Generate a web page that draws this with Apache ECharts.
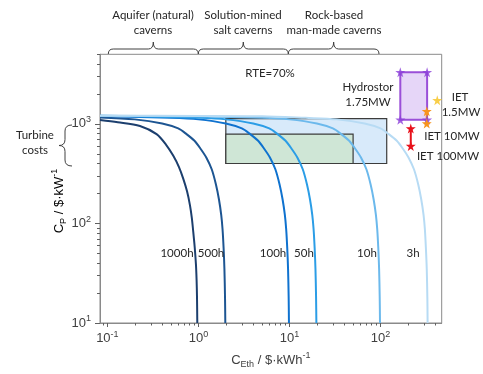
<!DOCTYPE html>
<html><head><meta charset="utf-8">
<script src="https://cdn.jsdelivr.net/npm/echarts@6/dist/echarts.min.js"></script>
<style>html,body{margin:0;padding:0;background:#fff}#c{width:483px;height:374px}</style>
</head><body><div id="c"></div>
<script>
// ---- data (C_Eth in $/kWh, C_P in $/kW) ----
const durations = ['1000h', '500h', '100h', '50h', '10h', '3h'];
const curve1000h = [[0.083,1095],[0.13,1040],[0.228,953],[0.347,789],[0.44,620],[0.528,480],[0.61,370],[0.681,282],[0.75,210],[0.807,153],[0.845,115],[0.877,83],[0.91,58],[0.939,39],[0.955,27],[0.965,18],[0.972,10]];
const curve500h = [[0.083,1160],[0.2,1110],[0.4,1010],[0.6,900],[0.74,790],[0.9,680],[1.06,560],[1.22,460],[1.4,350],[1.56,245],[1.68,175],[1.78,122],[1.84,88],[1.89,57],[1.93,35],[1.96,18],[1.974,10]];
const curve100h = [[0.083,1203],[0.5,1150],[1,1110],[2,1010],[3,900],[3.7,790],[4.5,680],[5.3,560],[6.1,460],[7,350],[7.8,245],[8.4,175],[8.9,122],[9.2,88],[9.45,57],[9.65,35],[9.8,18],[9.87,10]];
const curve50h = [[0.083,1205],[0.2,1195],[1,1150],[2,1110],[4,1010],[6,900],[7.4,790],[9,680],[10.6,560],[12.2,460],[14,350],[15.6,245],[16.8,175],[17.8,122],[18.4,88],[18.9,57],[19.3,35],[19.6,18],[19.75,10]];
const curve10h = [[0.083,1205],[0.5,1200],[1,1190],[5,1150],[10,1110],[20,1010],[30,900],[37,790],[45,680],[53,560],[61,460],[70,350],[78,245],[84,175],[89,122],[92,88],[94.5,57],[96.5,35],[98,18],[98.7,10]];
const curve3h = [[0.083,1205],[1,1203],[5,1195],[15,1150],[33,1110],[67,1010],[100,900],[123,790],[150,680],[177,560],[203,460],[233,350],[260,245],[280,175],[297,122],[307,88],[315,57],[322,35],[327,18],[329,10]];
const curves = [curve1000h, curve500h, curve100h, curve50h, curve10h, curve3h];

const storageRects = [[2, 400, 117, 1130], [2, 400, 50, 790]];   // [x0, y0, x1, y1]
const hydrostorRect = [[165, 1100, 325, 3300]];
const hydrostorStars = [[165, 3300], [325, 3300], [165, 1100], [325, 1100]];
const iet15Star = [[420, 1730]];
const iet10Stars = [[322, 1340], [322, 1010]];
const iet100Stars = [[215, 900], [215, 600]];

const xMajorTicks = [0.1, 1, 10, 100];
const xMinorTicks = [0.09, 0.2, 0.3, 0.4, 0.5, 0.6, 0.7, 0.8, 0.9, 2, 3, 4, 5, 6, 7, 8, 9, 20, 30, 40, 50, 60, 70, 80, 90, 200, 300, 400];
const yMajorTicks = [10, 100, 1000];
const yMinorTicks = [20, 30, 40, 50, 60, 70, 80, 90, 200, 300, 400, 500, 600, 700, 800, 900, 2000, 3000, 4000, 5000];

// ---- styling ----
const curveColors = ['#1c3f6e', '#1d5592', '#0f72cf', '#2b9de6', '#6cb9ec', '#b7dbf4'];
const AX = 'Liberation Sans';
const ANN = 'Lato';
const axisColor = '#8a8a8a';
const labelColor = '#404040';
const STAR = 'path://M50,0 L61,35 L98,35 L68,57 L79,91 L50,70 L21,91 L32,57 L2,35 L39,35 Z';

const powRich = {
  b: {fontSize: 13, fontFamily: AX, color: labelColor, lineHeight: 17, verticalAlign: 'middle'},
  s: {fontSize: 9, fontFamily: AX, color: labelColor, lineHeight: 17, verticalAlign: 'top'}
};
const powFmt = v => '{b|10}{s|' + Math.round(Math.log10(v)) + '}';
const nameRich = {
  m: {fontSize: 13, fontFamily: AX, color: labelColor, lineHeight: 18, verticalAlign: 'middle'},
  sub: {fontSize: 9, fontFamily: AX, color: labelColor, lineHeight: 18, verticalAlign: 'bottom'},
  sup: {fontSize: 9, fontFamily: AX, color: labelColor, lineHeight: 18, verticalAlign: 'top'}
};

function rectItem(fill, stroke, lw) {
  return function (params, api) {
    const p0 = api.coord([api.value(0), api.value(3)]);
    const p1 = api.coord([api.value(2), api.value(1)]);
    return {type: 'rect', shape: {x: p0[0], y: p0[1], width: p1[0] - p0[0], height: p1[1] - p0[1]},
      style: {fill: fill[params.dataIndex] || fill[0], stroke: stroke, lineWidth: lw}};
  };
}

const series = [];
series.push({type: 'custom', z: 1, renderItem: rectItem(['rgba(203,227,248,0.75)', '#cfe6d6'], '#3c3c3c', 1.2),
  encode: {x: [0, 2], y: [1, 3]}, data: storageRects, silent: true});
series.push({type: 'custom', z: 1, renderItem: rectItem(['#e6d6f8'], '#9a4fd8', 2),
  encode: {x: [0, 2], y: [1, 3]}, data: hydrostorRect, silent: true});
curves.forEach((c, i) => series.push({
  type: 'line', name: durations[i], data: c, smooth: 0.3, showSymbol: false, z: 2,
  lineStyle: {color: curveColors[i], width: 2}, itemStyle: {color: curveColors[i]}
}));
series.push({type: 'scatter', z: 4, data: hydrostorStars, symbol: STAR, symbolSize: 10, itemStyle: {color: '#8b3fd9'}});
series.push({type: 'scatter', z: 4, data: iet15Star, symbol: STAR, symbolSize: 10, itemStyle: {color: '#f6c21c'}});
series.push({type: 'line', z: 4, data: iet10Stars, symbol: STAR, symbolSize: 10, showSymbol: true,
  lineStyle: {color: '#f7941d', width: 2}, itemStyle: {color: '#f7941d'}});
series.push({type: 'line', z: 4, data: iet100Stars, symbol: STAR, symbolSize: 10, showSymbol: true,
  lineStyle: {color: '#e8111b', width: 2}, itemStyle: {color: '#e8111b'}});

function txt(x, y, text, size) {
  return {type: 'text', x: x, y: y, z: 10,
    style: {text: text, fill: '#262626', fontSize: size || 11.5, fontFamily: ANN, align: 'center', verticalAlign: 'middle'}};
}
const braceStyle = {stroke: '#404040', lineWidth: 1, fill: null};
function bz(x1, y1, cx, cy, x2, y2) {
  return {type: 'bezierCurve', z: 10, shape: {x1: x1, y1: y1, cpx1: cx, cpy1: cy, x2: x2, y2: y2}, style: braceStyle};
}
function ln(x1, y1, x2, y2) {
  return {type: 'line', z: 10, shape: {x1: x1, y1: y1, x2: x2, y2: y2}, style: braceStyle};
}
function topBrace(x0, x1, yb) {
  const c = (x0 + x1) / 2, yh = yb - 5, yt = yb - 12;
  return [bz(x0, yb, x0, yh, x0 + 5, yh), ln(x0 + 5, yh, c - 5, yh), bz(c - 5, yh, c, yh, c, yt),
    bz(c, yt, c, yh, c + 5, yh), ln(c + 5, yh, x1 - 5, yh), bz(x1 - 5, yh, x1, yh, x1, yb)];
}
function leftBrace(xr, y0, y1) {
  const m = (y0 + y1) / 2, xh = xr - 7, xt = xr - 13;
  return [bz(xr, y0, xh, y0, xh, y0 + 6), ln(xh, y0 + 6, xh, m - 6), bz(xh, m - 6, xh, m, xt, m),
    bz(xt, m, xh, m, xh, m + 6), ln(xh, m + 6, xh, y1 - 6), bz(xh, y1 - 6, xh, y1, xr, y1)];
}

const graphic = [
  txt(153, 15, 'Aquifer (natural)'), txt(153, 30, 'caverns'),
  txt(243, 15, 'Solution-mined'), txt(243, 30, 'salt caverns'),
  txt(334, 15, 'Rock-based'), txt(334, 30, 'man-made caverns'),
  ...topBrace(108.3, 198.3, 54), ...topBrace(198.3, 288.3, 54), ...topBrace(288.3, 379, 54),
  txt(35, 135, 'Turbine'), txt(35, 150, 'costs'),
  ...leftBrace(72, 125, 166),
  txt(270, 73, 'RTE=70%'),
  txt(368, 87, 'Hydrostor'), txt(368, 102, '1.75MW'),
  txt(460, 97, 'IET'), txt(461, 112, '1.5MW'),
  txt(452, 136, 'IET 10MW'), txt(448, 156, 'IET 100MW'),
  txt(177, 253, durations[0]), txt(211, 253, durations[1]), txt(273, 253, durations[2]),
  txt(304, 253, durations[3]), txt(367, 253, durations[4]), txt(413, 253, durations[5]),
  {type: 'text', x: 59, y: 201, rotation: Math.PI / 2, z: 10,
    style: {text: '{m|C}{sub|P}{m| / $·kW}{sup|-1}', rich: nameRich, align: 'center', verticalAlign: 'middle'}}
];

const xBase = {type: 'log', logBase: 10, min: 0.083, max: 470, gridIndex: 0, position: 'bottom', splitLine: {show: false}};
const yBase = {type: 'log', logBase: 10, min: 10, max: 5000, gridIndex: 0, position: 'left', splitLine: {show: false}};

const option = {
  animation: false,
  backgroundColor: '#fff',
  grid: {left: 100, right: 41.3, top: 54.3, bottom: 47.5, show: true, borderColor: axisColor, borderWidth: 1, backgroundColor: 'transparent'},
  xAxis: [
    Object.assign({}, xBase, {
      axisLine: {show: true, lineStyle: {color: axisColor, width: 1}},
      axisTick: {show: true, customValues: xMajorTicks, length: 4, lineStyle: {color: '#606060'}},
      axisLabel: {customValues: xMajorTicks, formatter: powFmt, rich: powRich, margin: 7},
      name: '{m|C}{sub|Eth}{m| / $·kWh}{sup|-1}', nameLocation: 'middle', nameGap: 28,
      nameTextStyle: {rich: nameRich}
    }),
    Object.assign({}, xBase, {
      axisLine: {show: false}, axisLabel: {show: false},
      axisTick: {show: true, customValues: xMinorTicks, length: 2.5, lineStyle: {color: '#606060'}}
    })
  ],
  yAxis: [
    Object.assign({}, yBase, {
      axisLine: {show: true, lineStyle: {color: axisColor, width: 1}},
      axisTick: {show: true, customValues: yMajorTicks, length: 5, lineStyle: {color: '#606060'}},
      axisLabel: {customValues: yMajorTicks, formatter: powFmt, rich: powRich, margin: 9}
    }),
    Object.assign({}, yBase, {
      axisLine: {show: false}, axisLabel: {show: false},
      axisTick: {show: true, customValues: yMinorTicks, length: 3, lineStyle: {color: '#606060'}}
    })
  ],
  series: series,
  graphic: graphic
};
const chart = echarts.init(document.getElementById('c'), null, {renderer: 'canvas'});
chart.setOption(option);
</script></body></html>
